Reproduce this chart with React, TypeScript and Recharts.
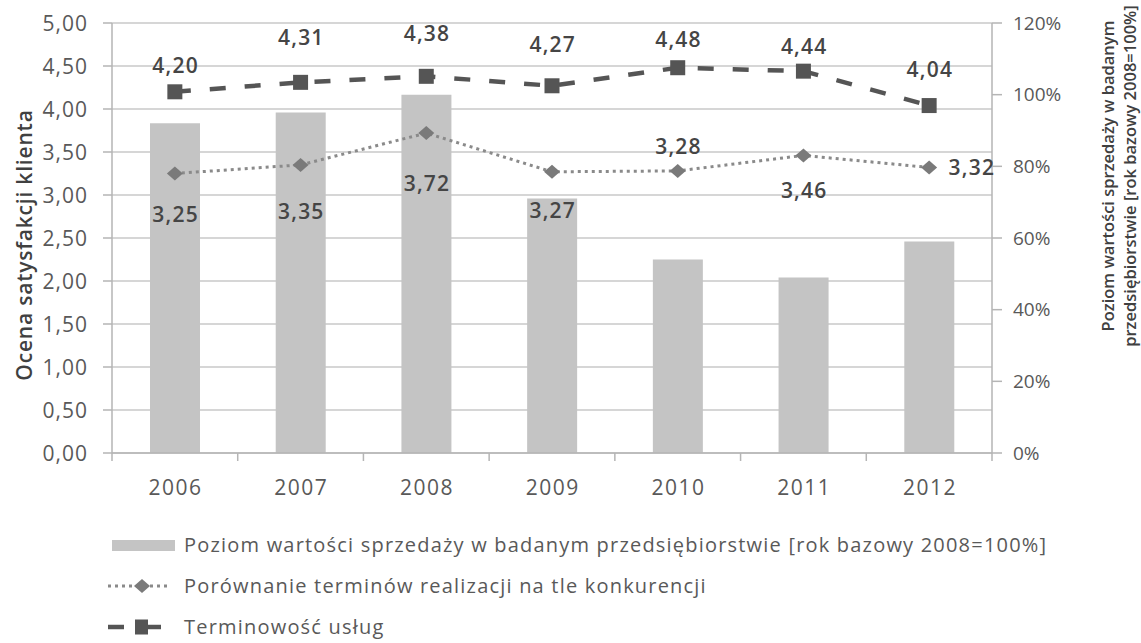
import React from 'react';
import { ComposedChart, Bar, Line, XAxis, YAxis, CartesianGrid, Legend, LabelList, Label } from 'recharts';

// ---- data ----
const years = ['2006', '2007', '2008', '2009', '2010', '2011', '2012'];
const salesLevel = [92, 95, 100, 71, 54, 49, 59]; // % (right axis)
const deadlineComparison = [3.25, 3.35, 3.72, 3.27, 3.28, 3.46, 3.32]; // left axis
const timeliness = [4.2, 4.31, 4.38, 4.27, 4.48, 4.44, 4.04]; // left axis
const leftTicks = [0, 0.5, 1, 1.5, 2, 2.5, 3, 3.5, 4, 4.5, 5];
const rightTicks = [0, 20, 40, 60, 80, 100, 120];

const nameSales = 'Poziom wartości sprzedaży w badanym przedsiębiorstwie [rok bazowy 2008=100%]';
const nameComparison = 'Porównanie terminów realizacji na tle konkurencji';
const nameTimeliness = 'Terminowość usług';
const leftTitle = 'Ocena satysfakcji klienta';
const rightTitle1 = 'Poziom wartości sprzedaży w badanym';
const rightTitle2 = 'przedsiębiorstwie [rok bazowy 2008=100%]';

// label placement (style)
const timelinessLabelDy = [-27, -45, -43, -42, -29, -25, -37];
const comparisonLabelShift: [number, number][] = [[0, 40], [0, 46], [0, 50], [0, 38], [0, -25], [0, 35], [42, 0]];

const data = years.map((y, i) => ({
  year: y,
  sales: salesLevel[i],
  comparison: deadlineComparison[i],
  timeliness: timeliness[i],
}));

// ---- layout constants ----
const W = 1141;
const H = 643;
const LEFT_W = 112;
const RIGHT_W = 149;
const PLOT_W = W - LEFT_W - RIGHT_W;
const AXIS_Y = 453;
const FONT = '"Open Sans", sans-serif';
const GRID = '#c9c9c9';
const AXIS = '#b5b5b5';
const TXT = '#595959';
const LBL = '#454545';

const fmtComma = (v: number) => v.toFixed(2).replace('.', ',');

const XTick = (props: any) => {
  const { x, payload, index } = props;
  const bw = PLOT_W / years.length;
  return (
    <g>
      <line x1={x - bw / 2} y1={AXIS_Y} x2={x - bw / 2} y2={AXIS_Y + 8} stroke={AXIS} strokeWidth={1.5} />
      {index === years.length - 1 && (
        <line x1={x + bw / 2} y1={AXIS_Y} x2={x + bw / 2} y2={AXIS_Y + 8} stroke={AXIS} strokeWidth={1.5} />
      )}
      <text x={x + 0.75} y={AXIS_Y + 34} textAnchor="middle" dominantBaseline="central" fontFamily={FONT} fontSize={21} fill={TXT} style={{ letterSpacing: 1.5 }}>
        {payload.value}
      </text>
    </g>
  );
};

const LeftTick = (props: any) => {
  const { y, payload } = props;
  return (
    <text x={88} y={y} textAnchor="end" dominantBaseline="central" fontFamily={FONT} fontSize={21} fill={TXT} style={{ letterSpacing: 1 }}>
      {fmtComma(payload.value)}
    </text>
  );
};

const SquareDot = (props: any) => {
  const { cx, cy, index } = props;
  if (cx == null || cy == null) return null;
  return <rect key={`sq-${index}`} x={cx - 7.5} y={cy - 7.5} width={15} height={15} fill="#555555" />;
};

const DiamondDot = (props: any) => {
  const { cx, cy, index } = props;
  if (cx == null || cy == null) return null;
  return (
    <polygon
      key={`dm-${index}`}
      points={`${cx},${cy - 7} ${cx + 8},${cy} ${cx},${cy + 7} ${cx - 8},${cy}`}
      fill="#7a7a7a"
    />
  );
};

const TimelinessLabel = (props: any) => {
  const { x, y, value, index } = props;
  return (
    <text x={x + 0.75} y={y + timelinessLabelDy[index]} textAnchor="middle" dominantBaseline="central" fontFamily={FONT} fontSize={21} fontWeight={600} fill={LBL} style={{ letterSpacing: 1.2 }}>
      {fmtComma(value)}
    </text>
  );
};

const ComparisonLabel = (props: any) => {
  const { x, y, value, index } = props;
  const [dx, dy] = comparisonLabelShift[index];
  return (
    <text x={x + dx + 0.75} y={y + dy} textAnchor="middle" dominantBaseline="central" fontFamily={FONT} fontSize={21} fontWeight={600} fill={LBL} style={{ letterSpacing: 1.2 }}>
      {fmtComma(value)}
    </text>
  );
};

const LegendContent = () => {
  const row: React.CSSProperties = { height: 41, display: 'flex', alignItems: 'center' };
  const txt: React.CSSProperties = { marginLeft: 6, whiteSpace: 'nowrap', letterSpacing: 1.2 };
  return (
    <div style={{ height: 120, boxSizing: 'border-box', paddingLeft: 106, paddingTop: 1, fontFamily: FONT, fontSize: 20, color: TXT }}>
      <div style={row}>
        <svg width={72} height={20}>
          <rect x={6} y={5} width={63} height={11} fill="#c4c4c4" />
        </svg>
        <span style={txt}>{nameSales}</span>
      </div>
      <div style={row}>
        <svg width={72} height={20}>
          <line x1={2} y1={10} x2={64} y2={10} stroke="#8a8a8a" strokeWidth={3} strokeDasharray="3 4" />
          <polygon points="36,3 44,10 36,17 28,10" fill="#7a7a7a" />
        </svg>
        <span style={txt}>{nameComparison}</span>
      </div>
      <div style={row}>
        <svg width={72} height={20}>
          <line x1={2} y1={10} x2={18} y2={10} stroke="#555555" strokeWidth={4.5} />
          <rect x={29} y={2.5} width={13} height={15} fill="#555555" />
          <line x1={42} y1={10} x2={55} y2={10} stroke="#555555" strokeWidth={4.5} />
        </svg>
        <span style={txt}>{nameTimeliness}</span>
      </div>
    </div>
  );
};

export default function App() {
  return (
    <div style={{ position: 'absolute', left: 0, top: 0, background: '#fff' }}>
      <ComposedChart width={W} height={H} data={data} margin={{ top: 23, right: 0, left: 0, bottom: 0 }} barSize={50}>
        <CartesianGrid yAxisId="left" vertical={false} stroke={GRID} strokeWidth={1.5} />
        <XAxis
          dataKey="year"
          height={70}
          axisLine={{ stroke: AXIS, strokeWidth: 1.5 }}
          tickLine={false}
          tick={<XTick />}
          interval={0}
        />
        <YAxis
          yAxisId="left"
          orientation="left"
          width={LEFT_W}
          domain={[0, 5]}
          ticks={leftTicks}
          axisLine={{ stroke: AXIS, strokeWidth: 1.5 }}
          tickLine={{ stroke: AXIS, strokeWidth: 1.5 }}
          tickSize={9}
          tick={<LeftTick />}
        >
          <Label
            content={() => (
              <text x={24} y={245} transform="rotate(-90 24 245)" textAnchor="middle" dominantBaseline="central" fontFamily={FONT} fontSize={21} fontWeight={600} fill="#404040" style={{ letterSpacing: 0.8 }}>
                {leftTitle}
              </text>
            )}
          />
        </YAxis>
        <YAxis
          yAxisId="right"
          orientation="right"
          width={RIGHT_W}
          domain={[0, 120]}
          ticks={rightTicks}
          tickFormatter={(v: number) => `${v}%`}
          axisLine={{ stroke: AXIS, strokeWidth: 1.5 }}
          tickLine={{ stroke: AXIS, strokeWidth: 1.5 }}
          tickSize={10}
          tickMargin={11}
          tick={{ fontFamily: FONT, fontSize: 19, fill: TXT }}
        >
          <Label
            content={() => (
              <g>
                <text x={1107} y={176} transform="rotate(-90 1107 176)" textAnchor="middle" dominantBaseline="central" fontFamily={FONT} fontSize={16.5} fontWeight={600} fill="#404040">
                  {rightTitle1}
                </text>
                <text x={1129} y={176} transform="rotate(-90 1129 176)" textAnchor="middle" dominantBaseline="central" fontFamily={FONT} fontSize={16.5} fontWeight={600} fill="#404040">
                  {rightTitle2}
                </text>
              </g>
            )}
          />
        </YAxis>
        <Legend verticalAlign="bottom" align="left" layout="horizontal" content={<LegendContent />} />
        <Bar yAxisId="right" dataKey="sales" name={nameSales} fill="#c4c4c4" isAnimationActive={false} />
        <Line
          yAxisId="left"
          type="linear"
          dataKey="comparison"
          name={nameComparison}
          stroke="#8a8a8a"
          strokeWidth={3}
          strokeDasharray="3 4"
          dot={<DiamondDot />}
          activeDot={false}
          isAnimationActive={false}
        >
          <LabelList dataKey="comparison" content={<ComparisonLabel />} />
        </Line>
        <Line
          yAxisId="left"
          type="linear"
          dataKey="timeliness"
          name={nameTimeliness}
          stroke="#555555"
          strokeWidth={4.5}
          strokeDasharray="16 19"
          dot={<SquareDot />}
          activeDot={false}
          isAnimationActive={false}
        >
          <LabelList dataKey="timeliness" content={<TimelinessLabel />} />
        </Line>
      </ComposedChart>
    </div>
  );
}
